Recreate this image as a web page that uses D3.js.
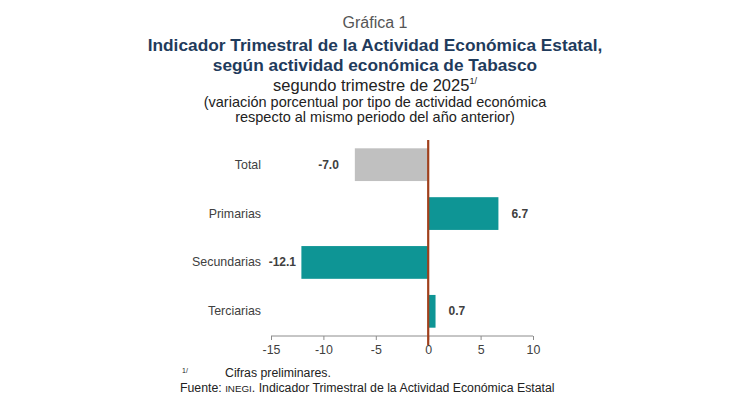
<!DOCTYPE html>
<html><head><meta charset="utf-8">
<script src="https://cdn.jsdelivr.net/npm/d3@7"></script>
<style>body{margin:0;background:#fff;} svg{display:block;font-family:"Liberation Sans",Arial,sans-serif;}</style>
</head><body>
<svg id="c" width="750" height="398"></svg>
<script>
const categories = ["Total", "Primarias", "Secundarias", "Terciarias"];
const values = [-7.0, 6.7, -12.1, 0.7];
const barColors = ["#c0c0c0", "#0e9595", "#0e9595", "#0e9595"];
const tickValues = [-15, -10, -5, 0, 5, 10];

const svg = d3.select("#c");
const x = d3.scaleLinear().domain([-15, 10]).range([271, 533]);
const y = d3.scaleBand().domain(categories).range([140, 336]).paddingInner(0.33).paddingOuter(0.17);

// Titles
const t = svg.append("g").attr("text-anchor", "middle");
t.append("text").attr("x", 375).attr("y", 28).attr("font-size", 16).attr("fill", "#555").text("Gráfica 1");
t.append("text").attr("x", 375).attr("y", 51).attr("font-size", 17.3).attr("font-weight", "bold").attr("fill", "#1f3b5c").text("Indicador Trimestral de la Actividad Económica Estatal,");
t.append("text").attr("x", 375).attr("y", 71).attr("font-size", 17.3).attr("font-weight", "bold").attr("fill", "#1f3b5c").text("según actividad económica de Tabasco");
const st = t.append("text").attr("x", 375).attr("y", 91).attr("font-size", 16.5).attr("fill", "#222");
st.append("tspan").text("segundo trimestre de 2025");
st.append("tspan").attr("dy", -7).attr("font-size", 9).text("1/");
t.append("text").attr("x", 375).attr("y", 107).attr("font-size", 14.5).attr("fill", "#222").text("(variación porcentual por tipo de actividad económica");
t.append("text").attr("x", 375).attr("y", 122).attr("font-size", 14.5).attr("fill", "#222").text("respecto al mismo periodo del año anterior)");

// Bars
svg.append("g").selectAll("rect").data(values).join("rect")
  .attr("x", d => x(Math.min(0, d)))
  .attr("width", d => Math.abs(x(d) - x(0)))
  .attr("y", (d, i) => y(categories[i]))
  .attr("height", y.bandwidth())
  .attr("fill", (d, i) => barColors[i]);

// Value labels
svg.append("g").selectAll("text").data(values).join("text")
  .attr("x", d => d < 0 ? Math.max(x(d) - 16, 296) : x(d) + 13)
  .attr("text-anchor", d => d < 0 ? "end" : "start")
  .attr("y", (d, i) => y(categories[i]) + y.bandwidth() / 2 + 4)
  .attr("font-size", 12).attr("font-weight", "bold").attr("fill", "#404040")
  .text(d => d.toFixed(1));

// Category labels
svg.append("g").selectAll("text").data(categories).join("text")
  .attr("x", 261).attr("text-anchor", "end")
  .attr("y", d => y(d) + y.bandwidth() / 2 + 4)
  .attr("font-size", 12.4).attr("fill", "#404040")
  .text(d => d);

// Axis
const ax = svg.append("g").attr("transform", "translate(0,336)")
  .call(d3.axisBottom(x).tickValues(tickValues).tickSize(4).tickFormat(d3.format("d")));
ax.select(".domain").attr("stroke", "#8c8c8c").attr("d", "M271,0H533");
ax.selectAll(".tick line").attr("stroke", "#8c8c8c");
ax.selectAll(".tick text").attr("font-size", 12.4).attr("fill", "#404040").attr("dy", "0.9em")
  .attr("font-family", "Liberation Sans, Arial, sans-serif")
  .text(d => d < 0 ? "-" + Math.abs(d) : d);

// Zero line
svg.append("line").attr("x1", x(0)).attr("x2", x(0)).attr("y1", 140).attr("y2", 345)
  .attr("stroke", "#a0401c").attr("stroke-width", 2.2);

// Footnotes
const f = svg.append("g").attr("fill", "#222");
f.append("text").attr("x", 182).attr("y", 373).attr("font-size", 7).text("1/");
f.append("text").attr("x", 225).attr("y", 377).attr("font-size", 12.3).text("Cifras preliminares.");
const src = f.append("text").attr("x", 180).attr("y", 392).attr("font-size", 12.3);
src.append("tspan").text("Fuente: ");
src.append("tspan").attr("font-size", 9.8).text("INEGI");
src.append("tspan").text(". Indicador Trimestral de la Actividad Económica Estatal");
</script>
</body></html>
